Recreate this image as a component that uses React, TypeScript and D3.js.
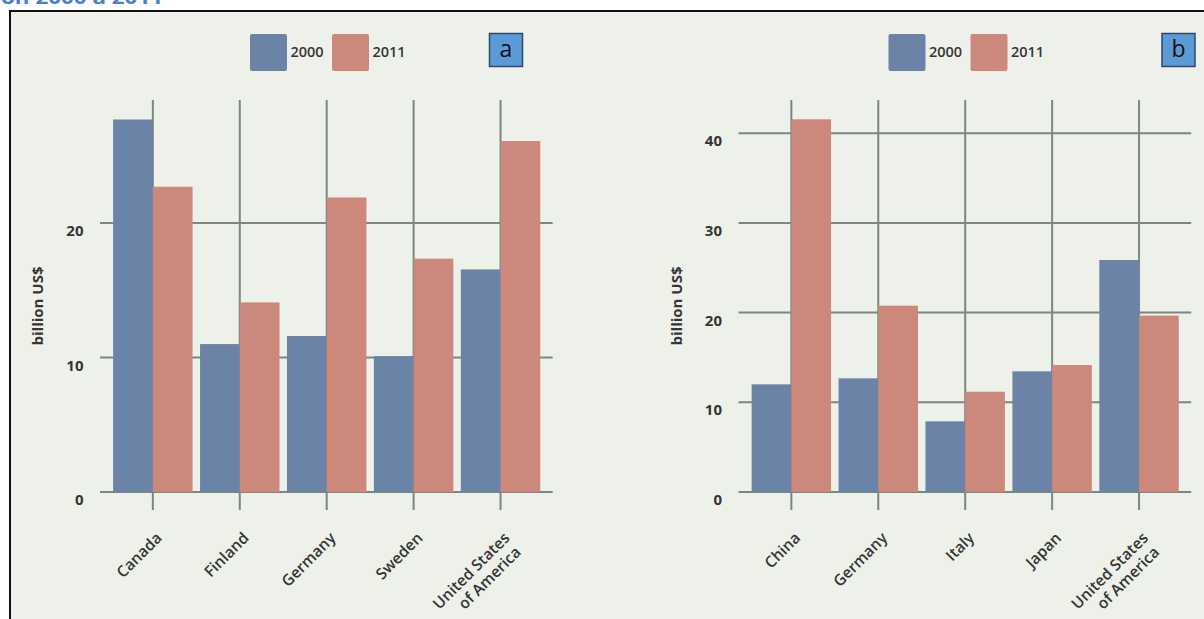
import React from "react";
import * as d3 from "d3";

// Series values (billion US$)
const yearKeys = ["2000", "2011"];

const countriesA = ["Canada", "Finland", "Germany", "Sweden", "United States of America"];
const valuesA2000 = [27.7, 11.0, 11.6, 10.1, 16.55];
const valuesA2011 = [22.7, 14.1, 21.9, 17.35, 26.1];
const ticksA = [0, 10, 20];

const countriesB = ["China", "Germany", "Italy", "Japan", "United States of America"];
const valuesB2000 = [12.0, 12.67, 7.88, 13.45, 25.86];
const valuesB2011 = [41.55, 20.77, 11.18, 14.16, 19.66];
const ticksB = [0, 10, 20, 30, 40];

const W = 1204;
const H = 619;
const BLUE = "#6a83a6";
const RED = "#cd887c";
const GRID = "#7a887f";
const TEXT = "#353535";
const BG = "#edf1ea";
const FONT = "'Open Sans', Lato, sans-serif";

type PanelProps = {
  dx: number;
  letter: string;
  letterX: number;
  categories: string[];
  v2000: number[];
  v2011: number[];
  ticks: number[];
  yMax: number;
};

function Panel({ dx, letter, letterX, categories, v2000, v2011, ticks, yMax }: PanelProps) {
  const x = d3
    .scaleBand<string>()
    .domain(categories)
    .range([100.7 + dx, 552.7 + dx])
    .paddingInner(0.086)
    .paddingOuter(0.143);
  const y = d3.scaleLinear().domain([0, yMax]).range([492, 100]);
  const bw = x.bandwidth() / 2;
  const center = (c: string) => (x(c) as number) + bw;
  const colors = d3.scaleOrdinal<string, string>().domain(yearKeys).range([BLUE, RED]);

  const labelLines = (c: string) =>
    c === "United States of America" ? ["United States", "of America"] : [c];

  return (
    <g>
      {/* vertical gridlines at category centres, extending below the axis as ticks */}
      {categories.map((c) => (
        <line key={"v" + c} x1={center(c)} x2={center(c)} y1={100} y2={510} stroke={GRID} strokeWidth={2} />
      ))}
      {/* horizontal gridlines */}
      {ticks.map((t) => (
        <line key={"h" + t} x1={100 + dx} x2={552.7 + dx} y1={y(t)} y2={y(t)} stroke={GRID} strokeWidth={2} />
      ))}
      {/* bars */}
      {categories.map((c, i) => (
        <g key={"b" + c}>
          <rect x={x(c)} y={y(v2000[i])} width={bw} height={y(0) - y(v2000[i])} fill={colors("2000")} />
          <rect x={center(c)} y={y(v2011[i])} width={bw} height={y(0) - y(v2011[i])} fill={colors("2011")} />
        </g>
      ))}
      {/* y tick labels */}
      {ticks.map((t) => (
        <text
          key={"t" + t}
          x={83.5 + dx}
          y={y(t) + 9}
          textAnchor="end"
          dominantBaseline="middle"
          fontFamily={FONT}
          fontWeight="bold"
          fontSize={15}
          fill={TEXT}
        >
          {t}
        </text>
      ))}
      {/* y axis title */}
      <text
        transform={`translate(${39 + dx},306) rotate(-90)`}
        textAnchor="middle"
        dominantBaseline="middle"
        fontFamily={FONT}
        fontWeight="bold"
        fontSize={15}
        fill={TEXT}
      >
        billion US$
      </text>
      {/* x category labels, rotated */}
      {categories.map((c) => {
        const lines = labelLines(c);
        return (
          <text
            key={"x" + c}
            transform={`translate(${center(c) + 10},539) rotate(-45)`}
            textAnchor="end"
            fontFamily={FONT}
            fontWeight={600}
            fontSize={15.5}
            fill={TEXT}
          >
            {lines.map((l, k) => (
              <tspan key={l} x={k === 0 ? 0 : -2} dy={k === 0 ? 0 : 18}>
                {l}
              </tspan>
            ))}
          </text>
        );
      })}
      {/* legend */}
      {yearKeys.map((k, i) => (
        <g key={"l" + k} transform={`translate(${250 + dx + i * 82},34)`}>
          <rect width={37} height={37} rx={2} fill={colors(k)} />
          <text x={40.5} y={19.5} dominantBaseline="middle" fontFamily={FONT} fontWeight={600} fontSize={14.5} fill={TEXT}>
            {k}
          </text>
        </g>
      ))}
      {/* panel letter */}
      <rect x={letterX} y={33.5} width={33} height={33} fill="#5b9bd5" stroke="#2e4a6b" strokeWidth={1.5} />
      <text
        x={letterX + 16.5}
        y={50.5}
        textAnchor="middle"
        dominantBaseline="middle"
        fontFamily="'Open Sans', sans-serif"
        fontSize={23}
        fill="#111"
      >
        {letter}
      </text>
    </g>
  );
}

export default function App() {
  return (
    <svg
      width={W}
      height={H}
      viewBox={`0 0 ${W} ${H}`}
      style={{ position: "absolute", left: 0, top: 0, display: "block", background: "#ffffff" }}
    >
      <text x={1} y={4} fontFamily="'Open Sans', sans-serif" fontWeight="bold" fontSize={17} fill="#4a7ed2" textLength={162} lengthAdjust="spacingAndGlyphs">
        on 2000 a 2011
      </text>
      <rect x={10} y={11} width={W + 10} height={H + 10} fill={BG} stroke="#111" strokeWidth={2} />
      <Panel dx={0} letter="a" letterX={489.5} categories={countriesA} v2000={valuesA2000} v2011={valuesA2011} ticks={ticksA} yMax={29.15} />
      <Panel dx={638.5} letter="b" letterX={1162} categories={countriesB} v2000={valuesB2000} v2011={valuesB2011} ticks={ticksB} yMax={43.7} />
    </svg>
  );
}
